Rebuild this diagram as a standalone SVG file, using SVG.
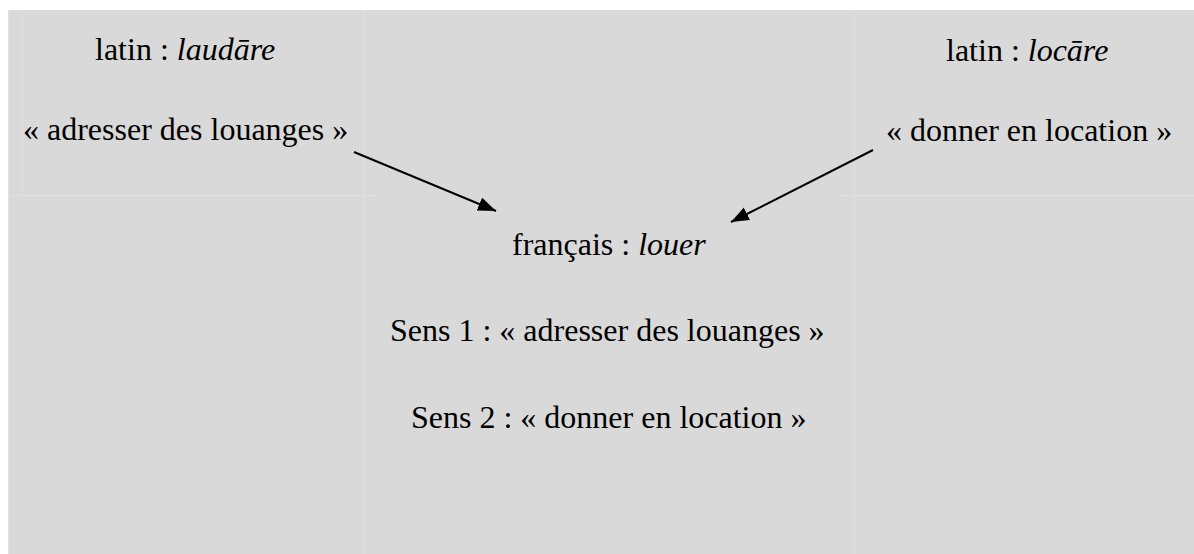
<svg xmlns="http://www.w3.org/2000/svg" width="1194" height="554" viewBox="0 0 1194 554">
  <style>
    text { font-family: 'Liberation Serif', 'Times New Roman', serif; font-size: 32px; fill: #000; }
    .i { font-style: italic; }
    .c { stroke: #000; stroke-width: 2; fill: none; }
    .g { stroke: #e1e1e1; stroke-width: 1; fill: none; }
  </style>
  <defs>
    <marker id="ah" markerUnits="userSpaceOnUse" markerWidth="20" markerHeight="16" refX="18" refY="7" orient="auto">
      <path d="M0,0 L18,7 L0,14 Z" fill="#000"/>
    </marker>
  </defs>
  <rect x="0" y="0" width="1194" height="554" fill="#ffffff"/>
  <rect x="8" y="10" width="1186" height="544" fill="#d9d9d9"/>
  <g id="panel-lines">
    <line class="g" x1="8.5" y1="10" x2="8.5" y2="554"/>
    <line class="g" x1="22.5" y1="10" x2="22.5" y2="195"/>
    <line class="g" x1="363.5" y1="10" x2="363.5" y2="554"/>
    <line class="g" x1="854.5" y1="10" x2="854.5" y2="554"/>
    <line class="g" x1="8" y1="195.5" x2="377" y2="195.5"/>
    <line class="g" x1="840" y1="195.5" x2="1194" y2="195.5"/>
  </g>
  <g id="node-laudare">
    <text x="95" y="60">latin : <tspan class="i">laudāre</tspan></text>
    <text x="23" y="140">« adresser des louanges »</text>
  </g>
  <g id="node-locare">
    <text x="946" y="61">latin : <tspan class="i">locāre</tspan></text>
    <text x="886" y="141">« donner en location »</text>
  </g>
  <g id="node-louer">
    <text x="512" y="255">français : <tspan class="i">louer</tspan></text>
    <text x="390" y="341">Sens 1 : « adresser des louanges »</text>
    <text x="411" y="428">Sens 2 : « donner en location »</text>
  </g>
  <g id="connectors">
    <line class="c" x1="354" y1="152" x2="496" y2="211" marker-end="url(#ah)"/>
    <line class="c" x1="873" y1="150" x2="731" y2="222" marker-end="url(#ah)"/>
  </g>
</svg>
